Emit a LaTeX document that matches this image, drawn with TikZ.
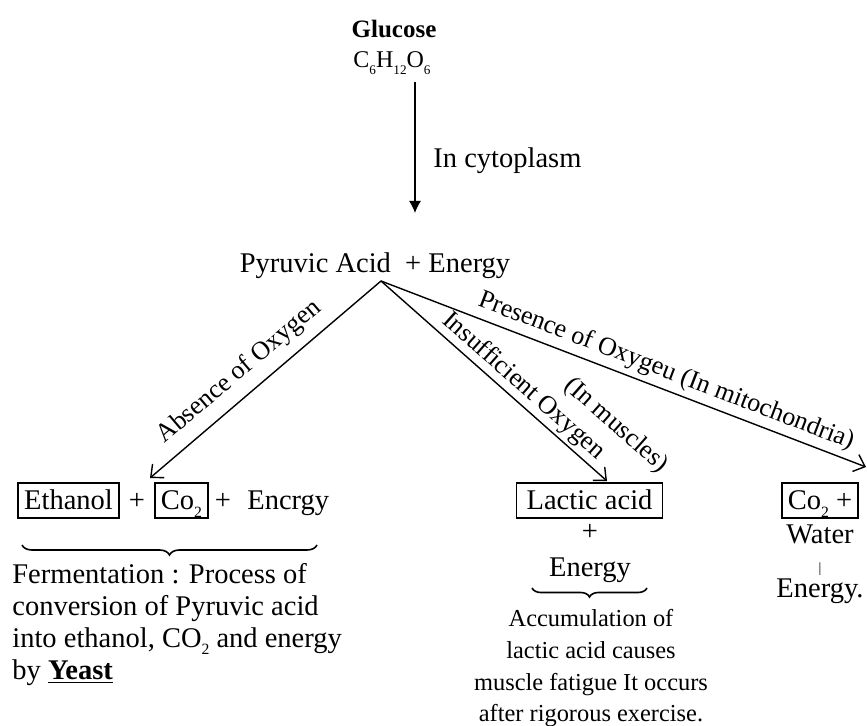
\documentclass[tikz,border=0pt]{standalone}
\usepackage{fontspec}
\setmainfont{Liberation Serif}
\usetikzlibrary{arrows.meta,decorations.pathreplacing}
\newcommand{\chsub}[1]{\raisebox{-0.28em}{\scalebox{0.55}{#1}}}
\begin{document}
\begin{tikzpicture}[x=0.5pt,y=-0.5pt,
  txt/.style={inner sep=0pt, font=\fontsize{14.25pt}{16pt}\selectfont},
  smalltxt/.style={inner sep=0pt, font=\fontsize{12.2pt}{15pt}\selectfont},
  lbl/.style={inner sep=1pt, font=\fontsize{13pt}{15pt}\selectfont, sloped},
  boxed/.style={draw, line width=0.8pt, inner xsep=3pt, inner ysep=2.5pt, text height=11pt, text depth=1.5pt, font=\fontsize{14.25pt}{16pt}\selectfont},
  thinarrow/.style={-{Straight Barb[length=5pt,width=9pt]}, line width=0.7pt},
  mainarrow/.style={-{Latex[length=6pt,width=6pt]}, line width=0.6pt},
  bracelow/.style={decorate, decoration={brace,mirror,amplitude=#1}, line width=0.8pt},
]
\useasboundingbox (0,0) rectangle (867,726);

% top
\node[inner sep=0pt, anchor=base, font=\bfseries\fontsize{12.5pt}{14pt}\selectfont] (glu) at (394,38) {Glucose};
\node[inner sep=0pt, anchor=base, font=\fontsize{12pt}{14pt}\selectfont] (form) at (392,68) {C\chsub{6}H\chsub{12}O\chsub{6}};
\coordinate (vtop) at (415,82);
\coordinate (vbot) at (415,213);
\draw[mainarrow] (vtop) -- (vbot);
\node[txt, anchor=base west] (cyto) at (433,168) {In cytoplasm};

\node[txt, anchor=base] (pyr) at (375,273) {Pyruvic Acid \ + Energy};
\coordinate (apex) at (381,281);

% row of products
\node[boxed, anchor=base] (eth) at (68.5,510) {Ethanol};
\node[txt, anchor=base] (p1) at (137,510) {+};
\node[boxed, anchor=base] (co2a) at (181.5,510) {Co\chsub{2}};
\node[txt, anchor=base] (p2) at (223,510) {+};
\node[txt, anchor=base west] (en1) at (247,510) {Encrgy};

\node[boxed, anchor=base, inner xsep=5pt] (lac) at (589.5,510) {Lactic acid};
\node[boxed, anchor=base] (co2b) at (820,510) {Co\chsub{2} +};

% arrows
\coordinate (tL) at (150,478);
\coordinate (tM) at (607,481);
\coordinate (tR) at (866,467);
\draw[thinarrow] (apex) -- node[lbl, pos=0.55, above=4pt] {Absence of Oxygen} (tL);
\draw[thinarrow] (apex) -- node[lbl, pos=0.585, above=0.5pt] {Insufficient Oxygen}
  node[lbl, pos=0.9, above=16.5pt] {(In muscles)} (tM);
\draw[thinarrow] (apex) -- node[lbl, pos=0.575, above=1.5pt] {Presence of Oxygeu (In mitochondria)} (tR);

% left column
\coordinate (bl1) at (22,545);
\coordinate (bl2) at (317,545);
\draw[bracelow=5pt] (bl1) -- (bl2);
\node[txt, anchor=base west] (f1) at (12,583) {Fermentation : Process of};
\node[txt, anchor=base west] (f2) at (12,615) {conversion of Pyruvic acid};
\node[txt, anchor=base west] (f3) at (12,647) {into ethanol, CO\chsub{2} and energy};
\node[txt, anchor=base west] (f4) at (12,679) {by \underline{\textbf{Yeast}}};

% lactic column
\node[txt, anchor=base] (lp) at (590,541) {+};
\node[txt, anchor=base] (len) at (590,576) {Energy};
\coordinate (bm1) at (532,588);
\coordinate (bm2) at (647,588);
\draw[bracelow=4.5pt] (bm1) -- (bm2);
\node[smalltxt, anchor=base] (l1) at (591,626) {Accumulation of};
\node[smalltxt, anchor=base] (l2) at (591,658) {lactic acid causes};
\node[smalltxt, anchor=base] (l3) at (591,690) {muscle fatigue It occurs};
\node[smalltxt, anchor=base] (l4) at (591,721) {after rigorous exercise.};

% right column
\node[txt, anchor=base] (wat) at (820,544) {Water};
\node[inner sep=0pt, anchor=base, font=\fontsize{7pt}{8pt}\selectfont] (tick) at (820,573) {|};
\node[txt, anchor=base] (en3) at (820,597) {Energy.};
\end{tikzpicture}
\end{document}
